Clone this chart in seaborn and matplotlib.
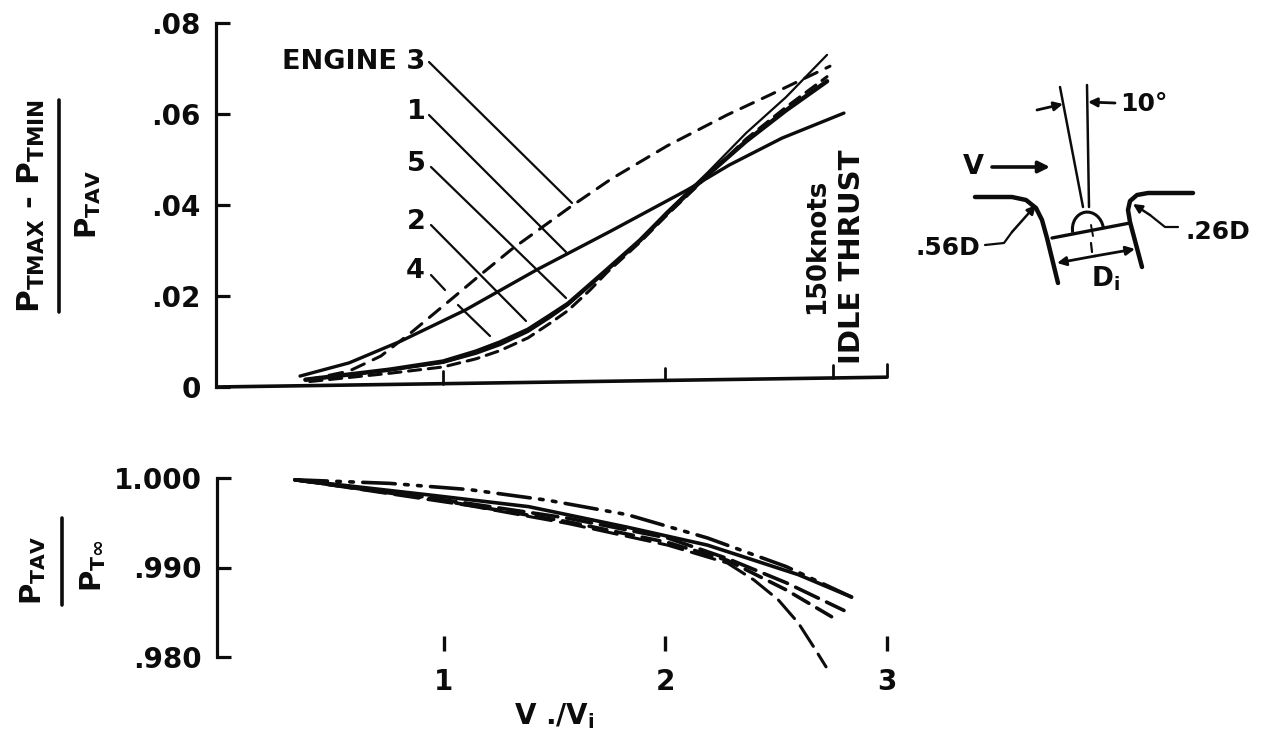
import numpy as np
import pandas as pd
import matplotlib
matplotlib.use("Agg")
import matplotlib.pyplot as plt
from matplotlib.patches import Arc, FancyArrowPatch
import seaborn as sns

# ---- data: upper panel
e1_x = [0.356, 0.577, 0.811, 1.10, 1.42, 1.757, 2.10, 2.29, 2.527, 2.806]
e1_y = [0.0024, 0.0053, 0.0101, 0.0169, 0.0257, 0.0343, 0.0433, 0.0488, 0.0547, 0.0602]
e3_x = [0.383, 0.577, 0.72, 0.865, 1.045, 1.167, 1.31, 1.58, 1.757, 2.01, 2.28, 2.473, 2.743]
e3_y = [0.0015, 0.0035, 0.0068, 0.0123, 0.0196, 0.0246, 0.0303, 0.0398, 0.0457, 0.0530, 0.0598, 0.0642, 0.0705]
e5_x = [0.38, 0.757, 1.0, 1.149, 1.257, 1.383, 1.482, 1.563, 1.662, 1.739, 1.887, 2.009, 2.189, 2.365, 2.545, 2.73]
e5_y = [0.0015, 0.0037, 0.0053, 0.0073, 0.0092, 0.0121, 0.0152, 0.0180, 0.0224, 0.0257, 0.0323, 0.0385, 0.0470, 0.0558, 0.0637, 0.0730]
e2_x = [0.38, 0.757, 1.0, 1.149, 1.257, 1.383, 1.482, 1.563, 1.662, 1.739, 1.887, 2.009, 2.189, 2.365, 2.545, 2.73]
e2_y = [0.0016, 0.0038, 0.0056, 0.0078, 0.0098, 0.0126, 0.0157, 0.0183, 0.0225, 0.0258, 0.0322, 0.0382, 0.0465, 0.0540, 0.0608, 0.0672]
e4_x = [0.40, 0.757, 1.0, 1.149, 1.257, 1.383, 1.482, 1.563, 1.662, 1.739, 1.887, 2.009, 2.189, 2.365, 2.545, 2.73]
e4_y = [0.0012, 0.0030, 0.0044, 0.0062, 0.0080, 0.0108, 0.0140, 0.0168, 0.0213, 0.0252, 0.0318, 0.0378, 0.0462, 0.0545, 0.0615, 0.0682]
top_ticks_x = [1, 2, 2.757, 3]
top_y_ticks = [0, 0.02, 0.04, 0.06, 0.08]
top_y_labels = ["0", ".02", ".04", ".06", ".08"]

# ---- data: lower panel
b3_x = [0.329, 0.757, 1.117, 1.473, 1.829, 2.19, 2.545, 2.84]
b3_y = [0.9998, 0.9994, 0.9987, 0.9975, 0.9959, 0.9933, 0.9901, 0.9867]
b1_x = [0.329, 0.937, 1.383, 1.829, 2.19, 2.6, 2.84]
b1_y = [0.9998, 0.9981, 0.9968, 0.9945, 0.9925, 0.9892, 0.9867]
b5_x = [0.329, 0.937, 1.563, 2.01, 2.28, 2.545, 2.806]
b5_y = [0.9998, 0.9978, 0.9955, 0.9933, 0.9910, 0.9883, 0.9852]
b2_x = [0.329, 0.937, 1.563, 2.01, 2.28, 2.545, 2.75]
b2_y = [0.9998, 0.9977, 0.9951, 0.9928, 0.9908, 0.9875, 0.9845]
b4_x = [0.329, 1.117, 1.563, 2.01, 2.28, 2.4, 2.509, 2.6, 2.67, 2.725]
b4_y = [0.9998, 0.9969, 0.9949, 0.9925, 0.9905, 0.9886, 0.9864, 0.9838, 0.9811, 0.9789]
bot_y_ticks = [0.98, 0.99, 1.0]
bot_y_labels = [".980", ".990", "1.000"]
bot_x_ticks = [1, 2, 3]
bot_x_labels = ["1", "2", "3"]

INK = "#0c0c0c"
FONT = "DejaVu Sans"
W, H = 1268, 735

sns.set_theme(style="white")
plt.rcParams["font.family"] = [FONT]
plt.rcParams["mathtext.fontset"] = "custom"
plt.rcParams["mathtext.rm"] = f"{FONT}:bold"
plt.rcParams["mathtext.it"] = f"{FONT}:bold"
plt.rcParams["mathtext.bf"] = f"{FONT}:bold"

fig = plt.figure(figsize=(W / 100, H / 100), dpi=100, facecolor="white")

def axes_px(left, top, right, bottom):
    return fig.add_axes([left / W, (H - bottom) / H, (right - left) / W, (bottom - top) / H])

ax = axes_px(216, 23, 887, 387)
bx = axes_px(217, 478, 887, 657)
ov = fig.add_axes([0, 0, 1, 1])
ov.set_xlim(0, W); ov.set_ylim(H, 0); ov.axis("off"); ov.patch.set_alpha(0)

def curve(a, xs, ys, lw, ls):
    df = pd.DataFrame({"x": xs, "y": ys})
    sns.lineplot(data=df, x="x", y="y", ax=a, color=INK, linewidth=lw, linestyle=ls,
                 sort=False, errorbar=None, solid_capstyle="round", dash_capstyle="round",
                 solid_joinstyle="round", clip_on=False)

DASH = (0, (4.5, 3.2))
curve(ax, e1_x, e1_y, 2.4, "-")
curve(ax, e3_x, e3_y, 2.2, DASH)
curve(ax, e5_x, e5_y, 1.6, "-")
curve(ax, e2_x, e2_y, 3.2, "-")
curve(ax, e4_x, e4_y, 2.2, (0, (4, 2.5)))

curve(bx, b3_x, b3_y, 2.6, (0, (9, 2.6, 1, 2.6, 1, 2.6)))
curve(bx, b1_x, b1_y, 2.6, "-")
curve(bx, b5_x, b5_y, 2.6, (0, (7, 2.5)))
curve(bx, b2_x, b2_y, 2.6, (0, (5, 2.5)))
curve(bx, b4_x, b4_y, 2.2, (0, (8, 3)))

for a in (ax, bx):
    a.set_xlim(-0.0225, 3.0)
    a.set_xlabel(""); a.set_ylabel("")
    a.patch.set_alpha(0)
    for s in ("top", "right"):
        a.spines[s].set_visible(False)
    a.spines["left"].set_linewidth(2.3)
    a.spines["left"].set_color(INK)
    a.tick_params(axis="y", direction="in", length=10, width=2.3, color=INK, left=True,
                  labelsize=20, labelcolor=INK, pad=11)

# upper panel
ax.set_ylim(0, 0.08)
ax.set_yticks(top_y_ticks, top_y_labels, fontweight="bold")
ax.spines["bottom"].set_visible(False)
ax.set_xticks([])
rise = 0.027
ax.plot([0, 1], [0, rise], transform=ax.transAxes, color=INK, lw=2.6, clip_on=False,
        solid_capstyle="butt")
for tx in top_ticks_x:
    base = rise * (tx + 0.0225) / 3.0225 * 0.08
    ax.plot([tx, tx], [base, base + 0.0028], color=INK, lw=2.0, clip_on=False)

# lower panel
bx.set_ylim(0.98, 1.0)
bx.set_yticks(bot_y_ticks, bot_y_labels, fontweight="bold")
bx.spines["bottom"].set_visible(False)
bx.spines["bottom"].set_position(("outward", -4))
bx.set_xticks(bot_x_ticks, bot_x_labels, fontweight="bold")
bx.tick_params(axis="x", direction="in", length=11, width=2.4, color=INK, bottom=True,
               labelsize=20, labelcolor=INK, pad=12)

# text on the overlay, in figure pixels
def t(x, y, s, size=19.5, rot=0):
    ov.text(x, y, s, fontsize=size, fontweight="bold", color=INK, ha="center", va="center",
            rotation=rot, rotation_mode="anchor")

def pl(pts, lw=1.6, **kw):
    xs, ys = zip(*pts)
    ov.plot(xs, ys, color=INK, lw=lw, solid_capstyle="round", solid_joinstyle="round", **kw)

t(354, 62, "ENGINE 3")
for lx, ly, s in [(416, 112, "1"), (416, 164, "5"), (416, 222, "2"), (415, 271, "4")]:
    t(lx, ly, s)
t(817, 246, "150knots", 18.6, 90)
t(852, 257, "IDLE THRUST", 21, 90)

t(31, 206, r"P$_{\mathrm{TMAX}}$ - P$_{\mathrm{TMIN}}$", 22.3, 90)
pl([(59, 100), (59, 312)], 2.6)
t(88, 205, r"P$_{\mathrm{TAV}}$", 21, 90)
t(33, 571, r"P$_{\mathrm{TAV}}$", 21, 90)
pl([(62, 518), (62, 605)], 2.6)
t(93, 566, r"P$_{\mathrm{T}\infty}$", 21, 90)
t(554, 716, r"V ./V$_{\mathrm{i}}$", 20)

# leader lines
pl([(429, 62), (572, 203)])
pl([(429, 115), (566, 252)])
pl([(431, 167), (566, 298)])
pl([(431, 225), (526, 321)])
pl([(431, 275), (445, 290)]); pl([(458, 305), (490, 336)])

# inlet sketch
pl([(975, 197), (1012, 197), (1026, 200), (1036, 208), (1042, 220), (1047, 238), (1058, 283)], 3.2)
pl([(1193, 193), (1148, 193), (1137, 195), (1130, 201), (1128, 210), (1130, 222), (1142, 267)], 3.2)
pl([(1052, 238), (1130, 223)], 2.4)
ov.add_patch(Arc((1088, 230), 31, 36, angle=-10, theta1=180, theta2=360, color=INK, lw=2.2))
pl([(1060, 87), (1083, 207)], 1.8)
pl([(1087, 85), (1089, 207)], 1.8)
pl([(1091, 225), (1093, 236)], 1.4); pl([(1091, 243), (1092, 252)], 1.6)

def arrow(p, q, lw=2.0, head=14):
    ov.add_patch(FancyArrowPatch(p, q, arrowstyle="-|>", mutation_scale=head, color=INK, lw=lw,
                                 shrinkA=0, shrinkB=0))

arrow((992, 167), (1050, 167), 2.6, 17)
arrow((1037, 110), (1063, 104), 2.0, 13)
arrow((1115, 103), (1088, 102), 2.0, 13)
arrow((1095, 256), (1057, 263), 2.0, 13)
arrow((1095, 256), (1135, 249), 2.0, 13)
pl([(985, 245), (1004, 243), (1012, 232)], 1.6)
arrow((1012, 232), (1036, 205), 1.8, 13)
pl([(1178, 227), (1165, 227), (1150, 215)], 1.6)
arrow((1150, 215), (1133, 204), 1.8, 13)

t(973, 167, "V")
t(1144, 104, "10°", 18)
t(948, 248, ".56D", 18)
t(1218, 232, ".26D", 18)
t(1105, 279, r"D$_{\mathrm{i}}$", 19)

fig.savefig("out.png", dpi=100, facecolor="white")
